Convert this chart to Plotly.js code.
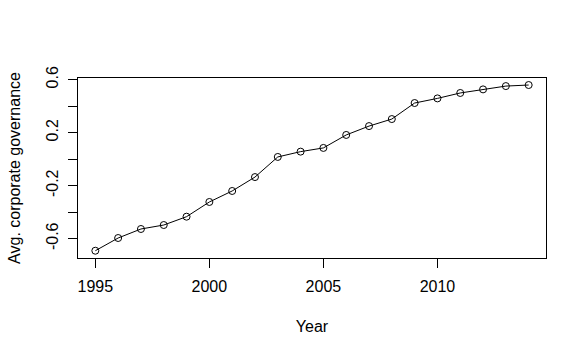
<!DOCTYPE html>
<html><head><meta charset="utf-8">
<script src="https://cdn.plot.ly/plotly-3.0.1.min.js"></script>
<style>html,body{margin:0;padding:0;background:#fff;}#chart{width:586px;height:356px;}</style>
</head><body><div id="chart"></div>
<script>
const years = [1995,1996,1997,1998,1999,2000,2001,2002,2003,2004,2005,2006,2007,2008,2009,2010,2011,2012,2013,2014];
const governance = [-0.691,-0.595,-0.527,-0.497,-0.434,-0.323,-0.240,-0.135,0.017,0.057,0.085,0.183,0.250,0.303,0.424,0.459,0.500,0.527,0.552,0.560];
const xTickVals = [1995,2000,2005,2010];
const yTickVals = [-0.6,-0.4,-0.2,0,0.2,0.4,0.6];
const yTickText = ["-0.6","","-0.2","","0.2","","0.6"];

const font = {family:"Liberation Sans, Arial, sans-serif", size:16, color:"#000"};
const trace = {
  x: years, y: governance, type:"scatter", mode:"lines+markers",
  line:{color:"#000", width:1},
  marker:{symbol:"circle-open", size:7, color:"#000", line:{width:1, color:"#000"}},
  hoverinfo:"none"
};
const layout = {
  width:586, height:356,
  margin:{l:78, r:40, t:78, b:98},
  paper_bgcolor:"#fff", plot_bgcolor:"#fff",
  font: font,
  showlegend:false,
  xaxis:{
    range:[1994.24, 2014.76], tickvals:xTickVals, ticks:"outside", ticklen:9, tickwidth:1, tickcolor:"#000",
    showline:true, linecolor:"#000", linewidth:1, mirror:true, showgrid:false, zeroline:false,
    ticklabelstandoff:5,
    title:{text:"Year", font:font, standoff:26}
  },
  yaxis:{
    range:[-0.746, 0.613], tickvals:yTickVals, ticktext:yTickText, ticks:"outside", ticklen:9, tickwidth:1, tickcolor:"#000",
    showline:true, linecolor:"#000", linewidth:1, mirror:true, showgrid:false, zeroline:false,
    tickangle:-90, ticklabelstandoff:4,
    title:{text:"Avg. corporate governance", font:font, standoff:18}
  }
};
Plotly.newPlot("chart", [trace], layout, {staticPlot:true, displayModeBar:false});
</script></body></html>
